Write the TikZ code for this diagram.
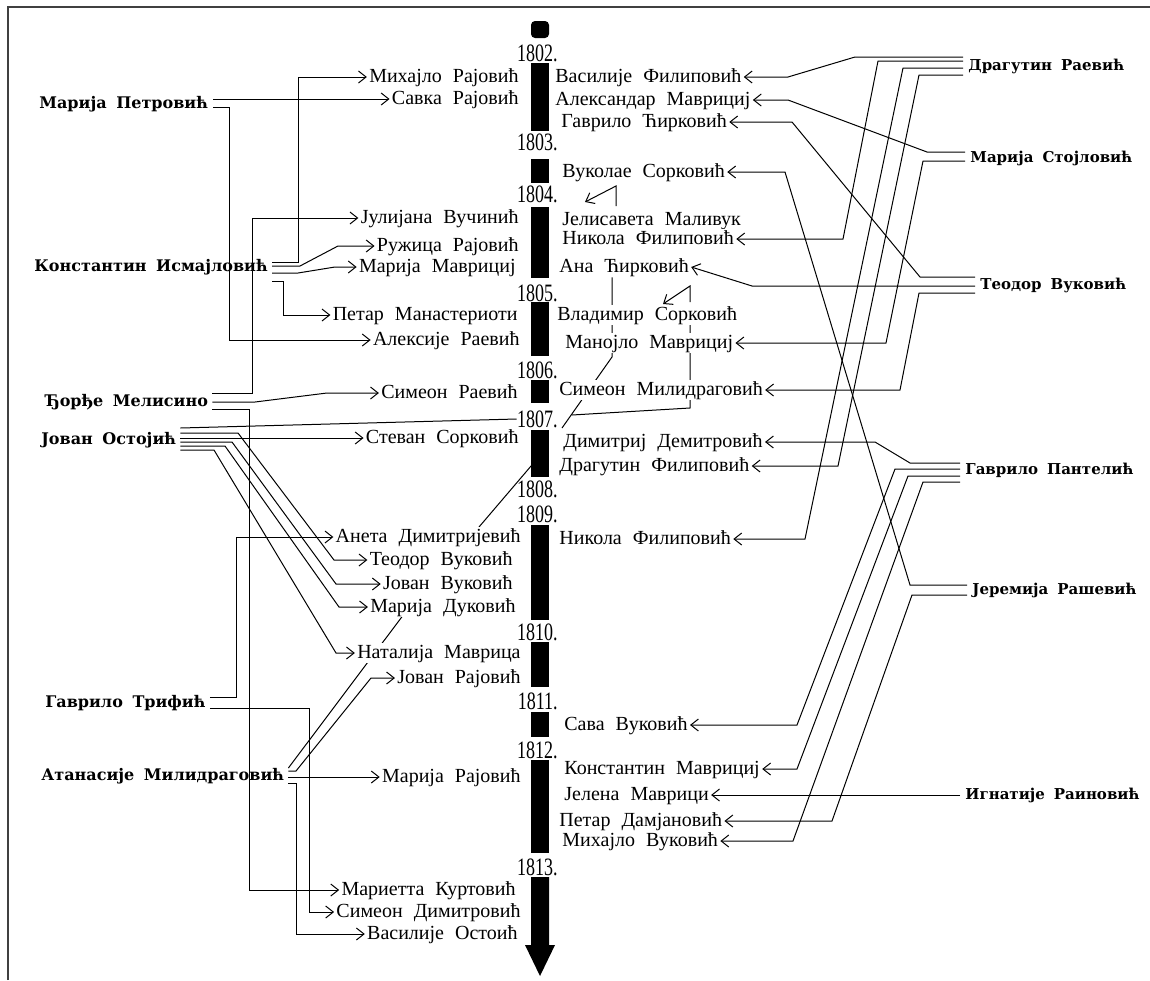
\documentclass[tikz,border=0pt]{standalone}
\usepackage{fontspec}
\setmainfont{Liberation Serif}
\newfontfamily\sidefamily{DejaVu Serif}
\newfontfamily\yearfamily{Liberation Serif}[FakeStretch=0.72]
\usepackage{tikz}
\usetikzlibrary{arrows.meta,backgrounds}

\newcommand\midfont{\fontsize{10}{12}\selectfont\spaceskip=0.55em\relax}
\newcommand\sidefont{\sidefamily\bfseries\fontsize{8}{10}\selectfont\spaceskip=0.6em\relax}
\newcommand\rsidefont{\sidefamily\bfseries\fontsize{7.5}{10}\selectfont\spaceskip=0.6em\relax}
\newcommand\yearfont{\yearfamily\fontsize{12.5}{14}\selectfont}

\tikzset{
  lnk/.style={line width=0.5pt},
  arr/.style={lnk,-{Straight Barb[length=3.8pt,width=6pt]}},
  mid/.style={font=\midfont, fill=white, inner xsep=1pt, inner ysep=0.5pt, text height=7pt, text depth=2pt},
  side/.style={font=\sidefont, inner sep=1pt, text height=6pt, text depth=1.5pt, anchor=west},
  rside/.style={side, font=\rsidefont},
  yr/.style={font=\yearfont, inner sep=0pt, text height=8.5pt, text depth=0pt, anchor=east},
}

\begin{document}
\begin{tikzpicture}[x=0.5pt, y=-0.5pt]
\useasboundingbox (0,0) rectangle (1150,980);
\draw[line width=0.9pt, black!75] (8,980) -- (8,7) -- (1150,7);

% timeline
\fill[rounded corners=2pt] (531,38) -- (531,21) -- (549,21) -- (549,38) -- cycle;
\foreach \a/\b in {63/131,159/183,207/278,302/356,380/403,430/477,525/620,642/687,712/737,760/853}
  \fill (531,\a) rectangle (549,\b);
\fill (531,877) -- (549,877) -- (549,945) -- (555,945) -- (540,976) -- (525,945) -- (531,945) -- cycle;
\foreach \yy/\yp in {1802/53,1803/142,1804/194,1805/293,1806/370,1807/419,1808/489,1809/514,1810/632,1811/701,1812/750,1813/867}
  \node[yr] (y\yy) at (558,\yp) {\yy.};

% left side
\node[side] (mpetr) at (37,104) {Марија Петровић};
\node[side] (kisma) at (32,267) {Константин Исмајловић};
\node[side] (djmel) at (43,402) {Ђорђе Мелисино};
\node[side] (jost) at (39,440) {Јован Остојић};
\node[side] (gtrif) at (43,703) {Гаврило Трифић};
\node[side] (amili) at (39,776) {Атанасије Милидраговић};

% right side
\node[rside] (dragr) at (966,66) {Драгутин Раевић};
\node[rside] (mstoj) at (968,158) {Марија Стојловић};
\node[rside] (teovr) at (978,285) {Теодор Вуковић};
\node[rside] (gpant) at (963,470) {Гаврило Пантелић};
\node[rside] (jeras) at (970,590) {Јеремија Рашевић};
\node[rside] (ignr) at (963,795) {Игнатије Раиновић};

% left of the timeline
\node[mid, anchor=east] (mraj) at (521,77) {Михајло Рајовић};
\node[mid, anchor=east] (savka) at (521,99) {Савка Рајовић};
\node[mid, anchor=east] (julij) at (521,218) {Јулијана Вучинић};
\node[mid, anchor=east] (ruz) at (521,246) {Ружица Рајовић};
\node[mid, anchor=east] (mmavr) at (518,267) {Марија Маврициј};
\node[mid, anchor=east] (petm) at (520,315) {Петар Манастериоти};
\node[mid, anchor=east] (aleks) at (522,340) {Алексије Раевић};
\node[mid, anchor=east] (simr) at (520,393) {Симеон Раевић};
\node[mid, anchor=east] (stev) at (521,438) {Стеван Сорковић};
\node[mid, anchor=east] (aneta) at (523,537) {Анета Димитријевић};
\node[mid, anchor=east] (teod) at (515,560) {Теодор Вуковић};
\node[mid, anchor=east] (jvuk) at (515,584) {Јован Вуковић};
\node[mid, anchor=east] (mduk) at (518,607) {Марија Дуковић};
\node[mid, anchor=east] (natal) at (523,653) {Наталија Маврица};
\node[mid, anchor=east] (jraj) at (523,678) {Јован Рајовић};
\node[mid, anchor=east] (mrajo) at (523,777) {Марија Рајовић};
\node[mid, anchor=east] (mkurt) at (518,890) {Мариетта Куртовић};
\node[mid, anchor=east] (simd) at (523,912) {Симеон Димитровић};
\node[mid, anchor=east] (vost) at (520,934) {Василије Остоић};

% right of the timeline
\node[mid, anchor=west] (vasf) at (553,77) {Василије Филиповић};
\node[mid, anchor=west] (alem) at (553,100) {Александар Маврициј};
\node[mid, anchor=west] (gcir) at (559,122) {Гаврило Ћирковић};
\node[mid, anchor=west] (vuks) at (560,172) {Вуколае Сорковић};
\node[mid, anchor=west] (jelm) at (560,220) {Јелисавета Маливук};
\node[mid, anchor=west] (nikf) at (560,239) {Никола Филиповић};
\node[mid, anchor=west] (anac) at (557,267) {Ана Ћирковић};
\node[mid, anchor=west] (vlas) at (555,315) {Владимир Сорковић};
\node[mid, anchor=west] (manm) at (563,343) {Манојло Маврициј};
\node[mid, anchor=west] (simm) at (557,390) {Симеон Милидраговић};
\node[mid, anchor=west] (dimd) at (561,442) {Димитриј Демитровић};
\node[mid, anchor=west] (dragf) at (557,466) {Драгутин Филиповић};
\node[mid, anchor=west] (nikf2) at (557,539) {Никола Филиповић};
\node[mid, anchor=west] (savav) at (562,725) {Сава Вуковић};
\node[mid, anchor=west] (konm) at (562,769) {Константин Маврициј};
\node[mid, anchor=west] (jelm2) at (562,795) {Јелена Маврици};
\node[mid, anchor=west] (petd) at (557,821) {Петар Дамјановић};
\node[mid, anchor=west] (mihv) at (560,841) {Михајло Вуковић};

\coordinate (mdukb) at (404,614);
\coordinate (anetb) at (479,527);
\coordinate (dragb) at (543,452);

\begin{scope}[on background layer]
% from the left
\draw[arr] ([shift={(3,-5)}]mpetr.east) -- (savka.west);
\draw[arr] ([shift={(3,3)}]mpetr.east) -| (229,340) -- (aleks.west);
\draw[arr] ([shift={(2,-5)}]kisma.east) -| (298,77) -- (mraj.west);
\draw[arr] ([shift={(2,-1)}]kisma.east) -- (300,266) -- (338,246) -- (ruz.west);
\draw[arr] ([shift={(2,6)}]kisma.east) -- (298,273) -- (335,267) -- (mmavr.west);
\draw[arr] ([shift={(2,14)}]kisma.east) -| (283,315) -- (petm.west);
\draw[arr] ([shift={(2,-9)}]djmel.east) -| (252,218) -- (julij.west);
\draw[arr] ([shift={(2,0)}]djmel.east) -- (255,402) -- (327,393) -- (simr.west);
\draw[arr] ([shift={(2,7)}]djmel.east) -| (249,890) -- (mkurt.west);
\draw[lnk] ([shift={(2,-12)}]jost.east) -- (y1807.west);
\draw[arr] ([shift={(2,-7)}]jost.east) -- (238,433) -- (334,560) -- (teod.west);
\draw[arr] ([shift={(2,-2)}]jost.east) -- (stev.west);
\draw[arr] ([shift={(2,2)}]jost.east) -- (232,442) -- (336,584) -- (jvuk.west);
\draw[arr] ([shift={(2,6)}]jost.east) -- (225,446) -- (339,607) -- (mduk.west);
\draw[arr] ([shift={(2,10)}]jost.east) -- (214,450) -- (336,653) -- (natal.west);
\draw[arr] ([shift={(2,-6)}]gtrif.east) -| (236,537) -- (aneta.west);
\draw[arr] ([shift={(2,5)}]gtrif.east) -| (309,912) -- (simd.west);
\draw[lnk] ([shift={(2,-8)}]amili.east) -- (mdukb);
\draw[arr] ([shift={(2,-5)}]amili.east) -- (296,771) -- (371,678) -- (jraj.west);
\draw[arr] ([shift={(2,1)}]amili.east) -- (mrajo.west);
\draw[arr] ([shift={(2,7)}]amili.east) -| (296,934) -- (vost.west);
% from the right
\draw[arr] ([shift={(-3,-9)}]dragr.west) -- (855,57) -- (788,77) -- (vasf.east);
\draw[arr] ([shift={(-3,-5)}]dragr.west) -- (878,61) -- (843,239) -- (nikf.east);
\draw[arr] ([shift={(-3,2)}]dragr.west) -- (903,68) -- (805,539) -- (nikf2.east);
\draw[arr] ([shift={(-3,9)}]dragr.west) -- (919,75) -- (838,466) -- (dragf.east);
\draw[arr] ([shift={(-3,-6)}]mstoj.west) -- (927,152) -- (788,100) -- (alem.east);
\draw[arr] ([shift={(-3,3)}]mstoj.west) -- (923,161) -- (886,343) -- (manm.east);
\draw[arr] ([shift={(-3,-8)}]teovr.west) -- (920,277) -- (792,122) -- (gcir.east);
\draw[arr] ([shift={(-3,1)}]teovr.west) -- (752,286) -- (anac.east);
\draw[arr] ([shift={(-3,8)}]teovr.west) -- (919,293) -- (900,390) -- (simm.east);
\draw[arr] ([shift={(-3,-5)}]jeras.west) -- (910,585) -- (785,172) -- (vuks.east);
\draw[arr] ([shift={(-3,5)}]jeras.west) -- (912,595) -- (832,821) -- (petd.east);
\draw[arr] ([shift={(-3,-7)}]gpant.west) -- (910,463) -- (875,442) -- (dimd.east);
\draw[arr] ([shift={(-3,-1)}]gpant.west) -- (895,469) -- (797,725) -- (savav.east);
\draw[arr] ([shift={(-3,6)}]gpant.west) -- (908,476) -- (797,769) -- (konm.east);
\draw[arr] ([shift={(-3,12)}]gpant.west) -- (923,482) -- (793,841) -- (mihv.east);
\draw[arr] ([shift={(-3,0)}]ignr.west) -- (jelm2.east);
% along the timeline
\draw[arr] (616,206) -- (616,186) -- (585,202);
\draw[lnk] (anac.south -| 612,0) -- (612,357) -- (562,428);
\draw[arr] (690,302) -- (690,286) -- (663,304);
\draw[lnk] (690,315) -- (690,408) -- (572,415);
\draw[lnk] (anetb) -- (dragb);
\end{scope}
\end{tikzpicture}
\end{document}
